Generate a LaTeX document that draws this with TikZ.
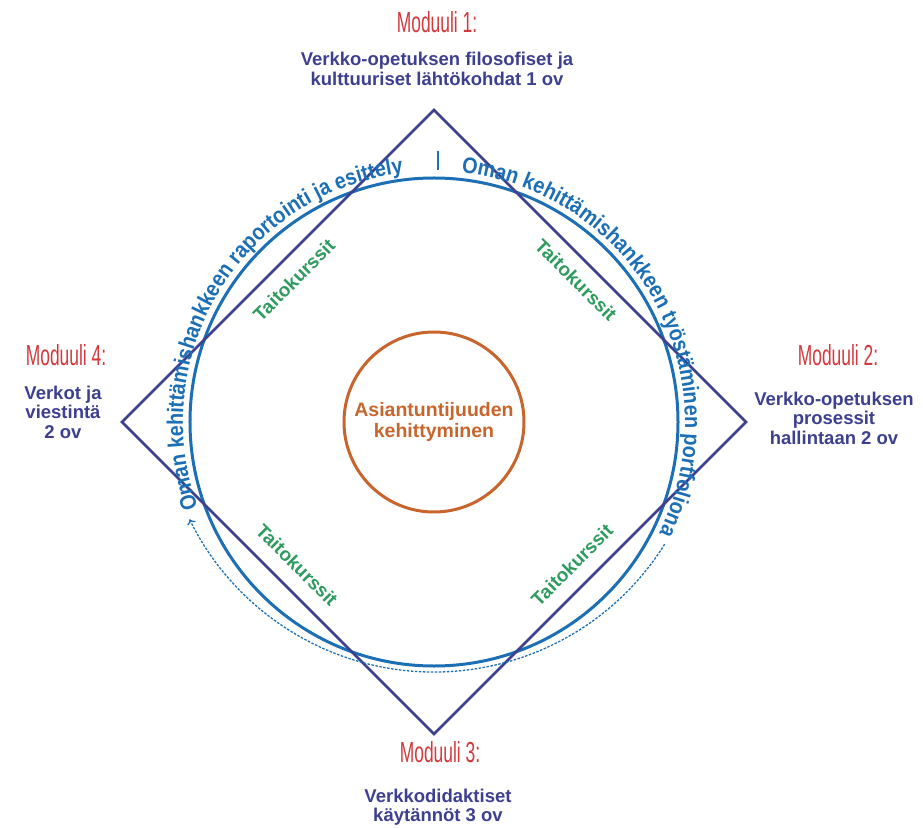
\documentclass[tikz,border=0pt]{standalone}
\usepackage{fontspec}
\setmainfont{Liberation Sans}
\newfontfamily\modfont[FakeStretch=0.6]{Liberation Sans}
\newfontfamily\ringfamily[FakeStretch=0.88]{Liberation Sans}
\usetikzlibrary{decorations.text,arrows.meta}
\definecolor{modred}{HTML}{D2383C}
\definecolor{modblue}{HTML}{3D3F8F}
\definecolor{ringblue}{HTML}{1C6FB4}
\definecolor{skillgreen}{HTML}{2E9B5E}
\definecolor{coreorange}{HTML}{C8652C}
\newcommand{\ringfont}{\ringfamily\bfseries\fontsize{22.5}{22.5}\selectfont}

\begin{document}
\begin{tikzpicture}[x=1pt, y=1pt,
  modhead/.style={text=modred, font=\modfont\fontsize{29}{29}\selectfont},
  modtext/.style={text=modblue, font=\bfseries\fontsize{18.5}{19.5}\selectfont, align=center},
  skill/.style={text=skillgreen, font=\bfseries\fontsize{19}{19}\selectfont},
  ringtext/.style={decorate, decoration={text along path, text align=center,
    text color=ringblue, text={|\ringfont|#1}}},
  flow/.style={draw=ringblue, line width=1.3pt, dash pattern=on 2.5pt off 1.5pt,
    -{To[length=5pt,width=9pt]}}]
  \useasboundingbox (-434,-405) rectangle (489,422);

  % ring and core
  \node[circle, draw=ringblue, line width=3pt, minimum size=488pt] (ring) at (0,0) {};
  \node[circle, draw=coreorange, line width=3pt, minimum size=180pt, text=coreorange,
    font=\bfseries\fontsize{19.5}{21}\selectfont, align=center] (core) at (0,0)
    {Asiantuntijuuden\\kehittyminen};

  % diamond
  \coordinate (top) at (0,312);
  \coordinate (right) at (312,0);
  \coordinate (bottom) at (0,-312);
  \coordinate (left) at (-312,0);
  \draw[modblue, line width=2.5pt, line join=miter] (top) -- (right) -- (bottom) -- (left) -- cycle;

  % texts round the ring
  \path[ringtext={Oman kehittämishankkeen raportointi ja esittely}]
    (215:251) arc[start angle=215, end angle=82, radius=251];
  \path[ringtext={Oman kehittämishankkeen työstäminen portfoliona}]
    (100:251) arc[start angle=100, end angle=-42.5, radius=251];
  \draw[ringblue, line width=1.5pt] (4,252) -- (4,271);

  \coordinate (flowstart) at ([shift={(0,22)}]-32:272);
  \draw[flow] (flowstart) arc[start angle=-32, end angle=-154, radius=272];

  % skill courses
  \node[skill, rotate=45] (skillnw) at (-140,142) {Taitokurssit};
  \node[skill, rotate=-45] (skillne) at (142,142) {Taitokurssit};
  \node[skill, rotate=-45] (skillsw) at (-137,-143) {Taitokurssit};
  \node[skill, rotate=45] (skillse) at (138,-143) {Taitokurssit};

  % modules
  \node[modhead] (m1head) at (3,400) {Moduuli 1:};
  \node[modtext] (m1text) at (3,353) {Verkko-opetuksen filosofiset ja\\kulttuuriset lähtökohdat 1 ov};
  \node[modhead] (m2head) at (404,67) {Moduuli 2:};
  \node[modtext] (m2text) at (400,4) {Verkko-opetuksen\\prosessit\\hallintaan 2 ov};
  \node[modhead] (m3head) at (6,-330) {Moduuli 3:};
  \node[modtext] (m3text) at (4,-385) {Verkkodidaktiset\\käytännöt 3 ov};
  \node[modhead] (m4head) at (-368,67) {Moduuli 4:};
  \node[modtext] (m4text) at (-371,10) {Verkot ja\\viestintä\\2 ov};
\end{tikzpicture}
\end{document}
